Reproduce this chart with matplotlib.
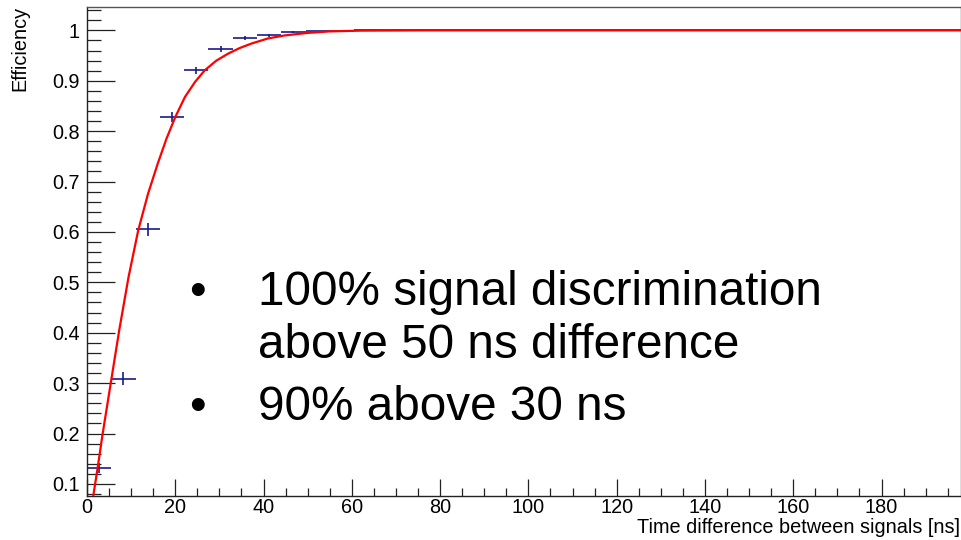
import numpy as np
import matplotlib
matplotlib.use('Agg')
import matplotlib.pyplot as plt
from matplotlib.ticker import MultipleLocator

# measured efficiency per time-difference bin (5.5 ns bins)
bin_width = 5.5
n_bins = 36
bin_centers = [bin_width * (i + 0.5) for i in range(n_bins)]
efficiency = [0.132, 0.309, 0.605, 0.828, 0.921, 0.964, 0.9855, 0.990, 0.996,
              0.998, 0.999] + [1.0] * (n_bins - 11)
eff_err = [0.010, 0.013, 0.0125, 0.010, 0.0066, 0.006, 0.004, 0.003, 0.002,
           0.001, 0.001] + [0.0] * (n_bins - 11)

# fitted turn-on curve, sampled
fit_t = [1.45, 2.4, 3.5, 5.4, 7.3, 9.4, 11.6, 13.8, 16.0, 18.0, 20.0, 22.2,
         24.5, 26.7, 29.3, 32.0, 34.6, 37.3, 41.0, 44.8, 50.0, 55.0, 62.0,
         75.0, 198.0]
fit_eff = [0.078, 0.131, 0.197, 0.301, 0.405, 0.51, 0.603, 0.675, 0.735,
           0.785, 0.828, 0.868, 0.898, 0.921, 0.940, 0.954, 0.965, 0.974,
           0.984, 0.990, 0.995, 0.998, 0.9995, 1.0, 1.0]

bullets = ['100% signal discrimination', 'above 50 ns difference',
           '90% above 30 ns']

W, H = 962, 540
plt.rcParams['font.family'] = ['Liberation Sans', 'DejaVu Sans']

fig = plt.figure(figsize=(W / 100, H / 100), dpi=100)
ax = fig.add_axes([87 / W, 1 - 496 / H, (961 - 87) / W, (496 - 6.7) / H])

ax.errorbar(bin_centers, efficiency, xerr=bin_width / 2, yerr=eff_err,
            fmt='none', ecolor='#1a1a8c', elinewidth=1.2, capsize=0, zorder=2)
ax.plot(fit_t, fit_eff, color='#ff0000', lw=1.6, zorder=3)

ax.set_xlim(0, 198)
ax.set_ylim(0.076, 1.047)

ax.xaxis.set_major_locator(MultipleLocator(20))
ax.xaxis.set_minor_locator(MultipleLocator(5))
ax.yaxis.set_major_locator(MultipleLocator(0.1))
ax.yaxis.set_minor_locator(MultipleLocator(0.02))
ax.yaxis.set_major_formatter(plt.FuncFormatter(lambda v, p: '1' if abs(v - 1) < 1e-6 else '{:.1f}'.format(v)))

ax.tick_params(axis='both', which='both', direction='in', colors='#222222',
               labelcolor='black', labelsize=14.3, width=0.9)
ax.tick_params(axis='y', which='major', length=20, pad=5)
ax.tick_params(axis='y', which='minor', length=10)
ax.tick_params(axis='x', which='major', length=12, pad=1.5)
ax.tick_params(axis='x', which='minor', length=6)

for side in ['left', 'bottom']:
    ax.spines[side].set_color('#222222')
    ax.spines[side].set_linewidth(1.0)
for side in ['top', 'right']:
    ax.spines[side].set_color('#555555')
    ax.spines[side].set_linewidth(1.0)

fig.text(960 / W, 1 - 533 / H, 'Time difference between signals [ns]',
         ha='right', va='baseline', fontsize=14.3)
fig.text(20 / W, 1 - 6 / H, 'Efficiency', rotation=90, ha='center',
         va='top', fontsize=14.3)

# annotation block
fs = 34.3
fig.text(258 / W, 1 - 305 / H, bullets[0], fontsize=fs, va='baseline')
fig.text(258 / W, 1 - 358 / H, bullets[1], fontsize=fs, va='baseline')
fig.text(258 / W, 1 - 420 / H, bullets[2], fontsize=fs, va='baseline')
fig.text(197 / W, 1 - 305 / H, '\u2022', fontsize=fs, va='baseline', ha='center')
fig.text(197 / W, 1 - 420 / H, '\u2022', fontsize=fs, va='baseline', ha='center')

fig.savefig('out.png', dpi=100)
